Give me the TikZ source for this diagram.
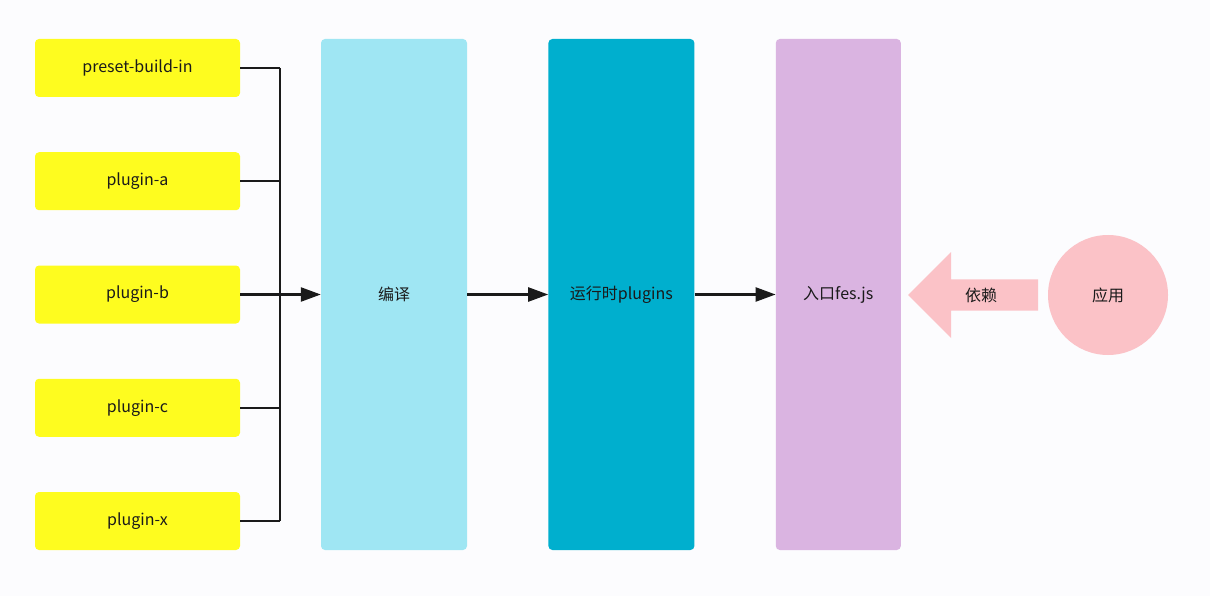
\documentclass[tikz,border=0pt]{standalone}
\usepackage{fontspec}
\setmainfont{Noto Sans CJK SC}
\usetikzlibrary{positioning, arrows.meta, shapes.arrows}
\definecolor{bgwhite}{HTML}{FCFCFE}
\definecolor{plugyellow}{HTML}{FEFC1F}
\definecolor{compileblue}{HTML}{9FE6F3}
\definecolor{runteal}{HTML}{00AFCE}
\definecolor{entrypurple}{HTML}{DAB4E1}
\definecolor{apppink}{HTML}{FBC2C7}
\definecolor{inkgray}{HTML}{1A1A1A}
\tikzset{
x=1pt, y=-1pt, % one unit is one pixel of the layout
node distance=113.25pt, % centre to centre distance of the plugin boxes
every node/.style={font=\fontsize{16pt}{18pt}\selectfont, text=inkgray},
plugin/.style={fill=plugyellow, rounded corners=4pt, minimum width=205pt, minimum height=58pt},
stage/.style={rounded corners=4pt, minimum width=146pt, minimum height=511pt},
link/.style={-{Triangle[length=20pt,width=14pt]}, line width=2.4pt, inkgray},
bus/.style={line width=2.4pt, inkgray},
}
\begin{document}
\begin{tikzpicture}
\fill[bgwhite] (0,0) rectangle (1210,596);
% plugins on the left
\node[plugin] (p1) at (137.5,68) {preset-build-in};
\node[plugin, below of=p1] (p2) {plugin-a};
\node[plugin, below of=p2] (p3) {plugin-b};
\node[plugin, below of=p3] (p4) {plugin-c};
\node[plugin, below of=p4] (p5) {plugin-x};
% stages
\node[stage, fill=compileblue] (compile) at (394,294.5) {编译};
\node[stage, fill=runteal, right=81pt of compile] (run) {运行时plugins};
\node[stage, fill=entrypurple, minimum width=125pt, right=81pt of run] (entry) {入口fes.js};
% application
\node[circle, fill=apppink, minimum size=120pt] (app) at (1108,295) {应用};
\node[single arrow, shape border rotate=180, fill=apppink, minimum height=130pt,
  minimum width=86pt, single arrow head extend=27pt, single arrow tip angle=90,
  inner xsep=2pt, inner ysep=8pt] (dep) at (981,295) {依赖};
% bus from the plugins
\coordinate (bustop) at (280,68);
\coordinate (busbot) at (280,521);
\draw[bus] (bustop) -- (busbot);
\draw[bus] (p1.east) -- (p1.east -| bustop);
\draw[bus] (p2.east) -- (p2.east -| bustop);
\draw[bus] (p3.east) -- (p3.east -| bustop);
\draw[bus] (p4.east) -- (p4.east -| bustop);
\draw[bus] (p5.east) -- (p5.east -| bustop);
\draw[link] (p3.east -| bustop) -- (compile.west);
\draw[link] (compile) -- (run);
\draw[link] (run) -- (entry);
\end{tikzpicture}
\end{document}
